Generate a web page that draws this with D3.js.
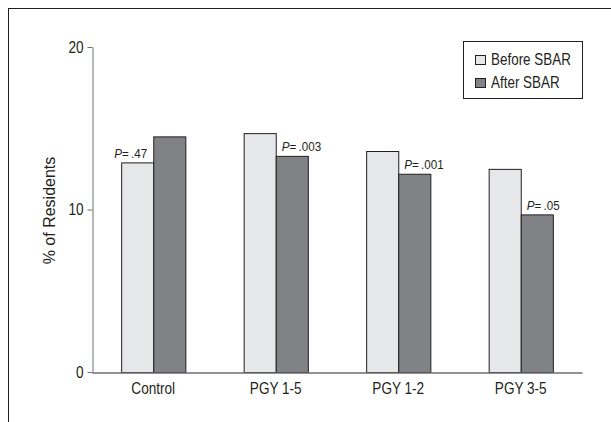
<!DOCTYPE html>
<html>
<head>
<meta charset="utf-8">
<script src="https://cdn.jsdelivr.net/npm/d3@7"></script>
<style>
  html, body { margin: 0; padding: 0; background: #fff; }
  svg text { font-family: "Liberation Sans", Arial, sans-serif; fill: #231f20; }
</style>
</head>
<body>
<svg id="chart" width="611" height="422"></svg>
<script>
const categories = ["Control", "PGY 1-5", "PGY 1-2", "PGY 3-5"];
const seriesNames = ["Before SBAR", "After SBAR"];
const beforeValues = [12.9, 14.7, 13.6, 12.5];
const afterValues = [14.5, 13.3, 12.2, 9.7];
const pLabels = [".47", ".003", ".001", ".05"];
const yTicks = [0, 10, 20];

const colors = { "Before SBAR": "#e6e7e8", "After SBAR": "#808285" };
const NARROW = 0.85;

const svg = d3.select("#chart");

// condense a text element horizontally around its anchor point
function condense(sel, s) {
  sel.each(function() {
    const t = d3.select(this);
    const x = +t.attr("x") || 0, y = +t.attr("y") || 0;
    t.attr("x", 0).attr("y", 0).attr("transform", `translate(${x},${y}) scale(${s},1)`);
  });
}

// outer frame (partially clipped like the reference)
svg.append("rect").attr("x", 8.5).attr("y", 8.5).attr("width", 640).attr("height", 440)
  .attr("fill", "none").attr("stroke", "#231f20").attr("stroke-width", 1);

const x0 = d3.scaleBand().domain(categories).range([92, 582]).paddingInner(0.476).paddingOuter(0.238);
const x1 = d3.scaleBand().domain(seriesNames).range([0, x0.bandwidth()]);
const y = d3.scaleLinear().domain([0, 20]).range([372, 47]);

// y axis
const yAxis = svg.append("g").attr("transform", "translate(92.5,0)")
  .call(d3.axisLeft(y).tickValues(yTicks).tickSize(5).tickSizeOuter(0).tickPadding(4));
yAxis.select(".domain").attr("stroke", "#6d6e71");
yAxis.selectAll(".tick line").attr("stroke", "#6d6e71");
yAxis.selectAll(".tick text").style("font-size", "16px").attr("fill", "#231f20");
condense(yAxis.selectAll(".tick text"), NARROW);

// y label
svg.append("text").attr("transform", "translate(55,210.5) rotate(-90)")
  .attr("text-anchor", "middle").style("font-size", "16px").text("% of Residents");

// bars
const data = categories.map((c, i) => ({ cat: c, vals: [
  { s: "Before SBAR", v: beforeValues[i] },
  { s: "After SBAR", v: afterValues[i] }
], p: pLabels[i] }));

const groups = svg.append("g").selectAll("g").data(data).join("g")
  .attr("transform", d => `translate(${x0(d.cat)},0)`);

groups.selectAll("rect").data(d => d.vals).join("rect")
  .attr("x", d => x1(d.s) + 0.5)
  .attr("y", d => y(d.v) + 0.5)
  .attr("width", x1.bandwidth())
  .attr("height", d => y(0) - y(d.v))
  .attr("fill", d => colors[d.s])
  .attr("stroke", "#231f20").attr("stroke-width", 1);

// x axis baseline
const xAxis = svg.append("g").attr("transform", "translate(0,372.5)")
  .call(d3.axisBottom(x0).tickSize(0).tickSizeOuter(0).tickPadding(10));
xAxis.select(".domain").attr("stroke", "#6d6e71").attr("stroke-width", 1.5);
xAxis.selectAll(".tick text").style("font-size", "16px").attr("fill", "#231f20");
condense(xAxis.selectAll(".tick text"), NARROW);

// P-value labels above the lower bar of each group
groups.each(function(d) {
  const lower = d.vals[0].v < d.vals[1].v ? d.vals[0] : d.vals[1];
  const isBefore = lower.s === "Before SBAR";
  const t = d3.select(this).append("text")
    .attr("x", isBefore ? x1(lower.s) + x1.bandwidth() - 6 : x1(lower.s) + 6)
    .attr("y", y(lower.v) - 4.5)
    .attr("text-anchor", isBefore ? "end" : "start")
    .style("font-size", "13.5px");
  t.append("tspan").style("font-style", "italic").text("P");
  t.append("tspan").text("=\u2009" + d.p);
  condense(t, 0.86);
});

// legend
const legend = svg.append("g");
legend.append("rect").attr("x", 463.5).attr("y", 41.5).attr("width", 119).attr("height", 57)
  .attr("fill", "#fff").attr("stroke", "#231f20");
seriesNames.forEach((s, i) => {
  legend.append("rect").attr("x", 475.5).attr("y", 55.5 + i * 23).attr("width", 10).attr("height", 9)
    .attr("fill", colors[s]).attr("stroke", "#231f20");
  const t = legend.append("text").attr("x", 491).attr("y", 65 + i * 23).style("font-size", "16px").text(s);
  condense(t, 0.84);
});
</script>
</body>
</html>
